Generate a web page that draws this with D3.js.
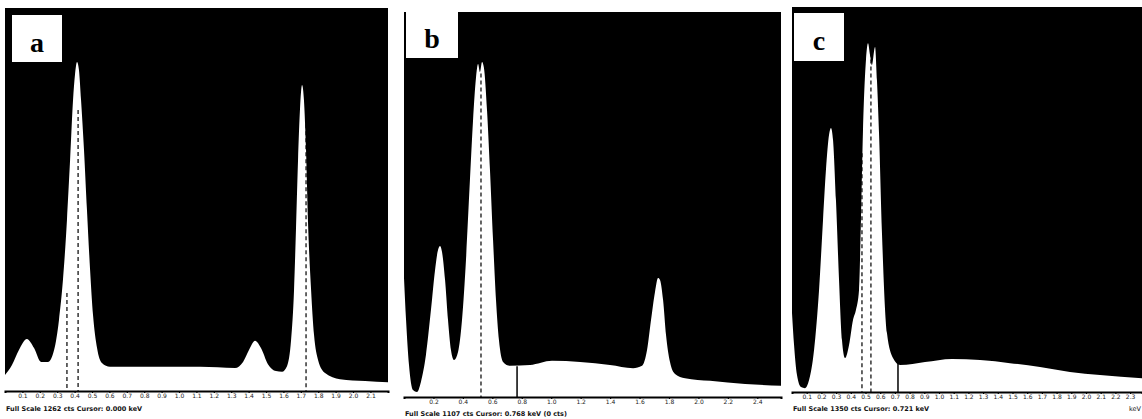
<!DOCTYPE html>
<html>
<head>
<meta charset="utf-8">
<script src="https://cdn.jsdelivr.net/npm/d3@7"></script>
<style>
  body { margin: 0; background: #fff; }
  svg { display: block; }
</style>
</head>
<body>
<div id="chart"></div>
<script>
// ---- spectrum a (energy in keV, counts in % of full scale)
const energyA = [0.000, 0.040, 0.080, 0.126, 0.167, 0.207, 0.247, 0.282, 0.310, 0.333, 0.356, 0.374, 0.391, 0.402, 0.414,
  0.425, 0.437, 0.454, 0.471, 0.489, 0.506, 0.529, 0.557, 0.603, 0.833, 1.121, 1.322, 1.368, 1.402, 1.437, 1.471, 1.511,
  1.557, 1.592, 1.621, 1.644, 1.661, 1.672, 1.684, 1.695, 1.707, 1.718, 1.730, 1.741, 1.759, 1.776, 1.799, 1.839, 1.925,
  2.069, 2.201];
const countsA = [4.2, 6.8, 10.7, 13.6, 11.2, 7.6, 7.6, 10.7, 18.5, 29.0, 44.6, 60.3, 76.0, 82.5, 85.9,
  83.8, 76.0, 62.9, 47.3, 31.6, 19.8, 11.2, 7.3, 6.3, 6.3, 6.3, 6.0, 7.6, 10.7, 13.1, 11.2, 7.0,
  5.2, 5.0, 6.5, 13.3, 26.4, 42.0, 60.3, 73.4, 79.9, 76.0, 62.9, 44.6, 26.4, 14.6, 8.1, 4.7, 3.1,
  2.6, 2.3];
const markersA = [0.356, 0.420, 1.730];
const markerTopsA = [25.6, 73.4, 71.5];
const ticksA = [0.1, 0.2, 0.3, 0.4, 0.5, 0.6, 0.7, 0.8, 0.9, 1.0, 1.1, 1.2, 1.3, 1.4, 1.5, 1.6, 1.7, 1.8, 1.9, 2.0, 2.1];

// ---- spectrum b
const energyB = [0.000, 0.014, 0.034, 0.061, 0.088, 0.115, 0.149, 0.183, 0.211, 0.231, 0.245, 0.258, 0.279, 0.299, 0.319,
  0.340, 0.367, 0.394, 0.421, 0.448, 0.469, 0.489, 0.503, 0.516, 0.530, 0.543, 0.564, 0.584, 0.605, 0.625, 0.645,
  0.673, 0.720, 0.856, 1.005, 1.196, 1.399, 1.556, 1.617, 1.651, 1.678, 1.705, 1.726, 1.739, 1.760, 1.780, 1.807,
  1.841, 1.909, 2.079, 2.317, 2.561];
const countsB = [30.9, 20.0, 8.3, 1.8, 1.3, 3.9, 10.9, 22.6, 33.0, 38.2, 39.2, 37.7, 30.4, 20.0, 12.2,
  9.6, 11.7, 20.0, 35.6, 56.4, 71.9, 82.9, 86.5, 84.4, 87.0, 85.5, 74.5, 59.0, 40.8, 25.2, 14.8,
  9.1, 8.1, 8.3, 9.4, 9.1, 8.3, 7.5, 8.1, 12.2, 20.0, 27.3, 30.9, 30.4, 25.2, 16.1, 9.1,
  6.0, 4.9, 4.2, 3.4, 2.9];
const markersB = [0.523];
const markerTopsB = [84];
const cursorB = 0.768;
const ticksB = [0.2, 0.4, 0.6, 0.8, 1.0, 1.2, 1.4, 1.6, 1.8, 2.0, 2.2, 2.4];

// ---- spectrum c
const energyC = [0.000, 0.014, 0.034, 0.061, 0.088, 0.116, 0.150, 0.184, 0.211, 0.231, 0.252, 0.265, 0.279, 0.299, 0.320,
  0.340, 0.361, 0.388, 0.415, 0.435, 0.456, 0.469, 0.483, 0.503, 0.517, 0.531, 0.544, 0.565, 0.578, 0.592, 0.612,
  0.646, 0.687, 0.735, 0.905, 1.088, 1.279, 1.483, 1.687, 1.891, 2.095, 2.381];
const countsC = [20.5, 12.2, 4.4, 1.3, 1.0, 3.1, 10.9, 26.5, 44.7, 57.7, 66.8, 68.6, 65.5, 49.9, 29.1,
  13.5, 8.8, 12.2, 18.7, 21.3, 26.5, 44.7, 68.1, 86.2, 90.6, 87.5, 84.9, 89.6, 81.0, 67.3, 41.3,
  15.3, 8.8, 7.0, 7.8, 8.6, 8.3, 7.5, 6.5, 5.2, 4.4, 3.6];
const markersC = [0.476, 0.537];
const markerTopsC = [62, 90];
const cursorC = 0.721;
const ticksC = [0.1, 0.2, 0.3, 0.4, 0.5, 0.6, 0.7, 0.8, 0.9, 1.0, 1.1, 1.2, 1.3, 1.4, 1.5, 1.6, 1.7, 1.8, 1.9, 2.0, 2.1, 2.2, 2.3];

const panelLetters = ["a", "b", "c"];
const captions = [
  "Full Scale 1262 cts  Cursor: 0.000 keV",
  "Full Scale 1107 cts  Cursor: 0.768 keV  (0 cts)",
  "Full Scale 1350 cts  Cursor: 0.721 keV"
];

const W = 1142, H = 419;

// layout of the three panels (pixels)
const panels = [
  {left: 5,   right: 388,  top: 8,  axisY: 391, maxE: 2.201, energy: energyA, counts: countsA,
   markers: markersA, tops: markerTopsA, cursor: null, ticks: ticksA,
   box: [12, 15, 50, 47], captionY: 411},
  {left: 404, right: 781,  top: 12, axisY: 397, maxE: 2.561, energy: energyB, counts: countsB,
   markers: markersB, tops: markerTopsB, cursor: cursorB, ticks: ticksB,
   box: [406, 12, 52, 46], captionY: 416},
  {left: 792, right: 1142, top: 7,  axisY: 392, maxE: 2.381, energy: energyC, counts: countsC,
   markers: markersC, tops: markerTopsC, cursor: cursorC, ticks: ticksC,
   box: [794, 13, 50, 48], captionY: 411}
];

const svg = d3.select("#chart").append("svg")
  .attr("width", W)
  .attr("height", H)
  .attr("viewBox", `0 0 ${W} ${H}`);

svg.append("rect").attr("width", W).attr("height", H).attr("fill", "#fff");

panels.forEach((p, i) => {
  const g = svg.append("g").attr("class", "panel panel-" + panelLetters[i]);

  const x = d3.scaleLinear().domain([0, p.maxE]).range([p.left, p.right]);
  const y = d3.scaleLinear().domain([0, 100]).range([p.axisY, p.top]);

  // black plot background
  g.append("rect")
    .attr("x", p.left)
    .attr("y", p.top)
    .attr("width", p.right - p.left)
    .attr("height", p.axisY - p.top)
    .attr("fill", "#000");

  // white filled spectrum
  const pts = p.energy.map((e, j) => ({e: e, c: p.counts[j]}));
  const area = d3.area()
    .x(d => x(d.e))
    .y0(y(0))
    .y1(d => y(d.c))
    .curve(d3.curveMonotoneX);

  g.append("path")
    .datum(pts)
    .attr("d", area)
    .attr("fill", "#fff");

  // element marker lines
  g.selectAll(".marker")
    .data(p.markers)
    .join("line")
    .attr("class", "marker")
    .attr("x1", d => x(d))
    .attr("x2", d => x(d))
    .attr("y1", (d, j) => y(p.tops[j]))
    .attr("y2", y(0))
    .attr("stroke", "#000")
    .attr("stroke-width", 1.2)
    .attr("stroke-dasharray", "4,3");

  if (p.cursor !== null) {
    g.append("line")
      .attr("x1", x(p.cursor)).attr("x2", x(p.cursor))
      .attr("y1", y(8)).attr("y2", y(0))
      .attr("stroke", "#000")
      .attr("stroke-width", 1.5);
  }

  // energy axis
  const axis = d3.axisBottom(x)
    .tickValues(p.ticks)
    .tickSize(2)
    .tickPadding(1)
    .tickFormat(d3.format(".1f"));

  const ax = g.append("g")
    .attr("transform", `translate(0,${p.axisY})`)
    .call(axis);
  ax.select(".domain").attr("stroke", "#000").attr("stroke-width", 2);
  ax.selectAll(".tick line").attr("stroke", "#000").attr("stroke-width", 1.2);
  ax.selectAll(".tick text")
    .attr("fill", "#222")
    .style("font-family", "'DejaVu Sans', sans-serif")
    .style("font-size", "6px");

  // status caption under the axis
  g.append("text")
    .attr("x", p.left + 1)
    .attr("y", p.captionY)
    .style("font-family", "'DejaVu Sans', sans-serif")
    .style("font-size", "6.5px")
    .style("font-weight", "bold")
    .attr("fill", "#111")
    .text(captions[i]);

  // panel letter box
  g.append("rect")
    .attr("x", p.box[0]).attr("y", p.box[1])
    .attr("width", p.box[2]).attr("height", p.box[3])
    .attr("fill", "#fff");

  g.append("text")
    .attr("x", p.box[0] + p.box[2] / 2)
    .attr("y", p.box[1] + p.box[3] * 0.78)
    .attr("text-anchor", "middle")
    .style("font-family", "'Liberation Serif', serif")
    .style("font-weight", "bold")
    .style("font-size", "28px")
    .attr("fill", "#000")
    .text(panelLetters[i]);
});

// unit label at the right end of panel c
svg.append("text")
  .attr("x", 1141)
  .attr("y", 411)
  .attr("text-anchor", "end")
  .style("font-family", "'DejaVu Sans', sans-serif")
  .style("font-size", "6.5px")
  .attr("fill", "#111")
  .text("keV");
</script>
</body>
</html>
